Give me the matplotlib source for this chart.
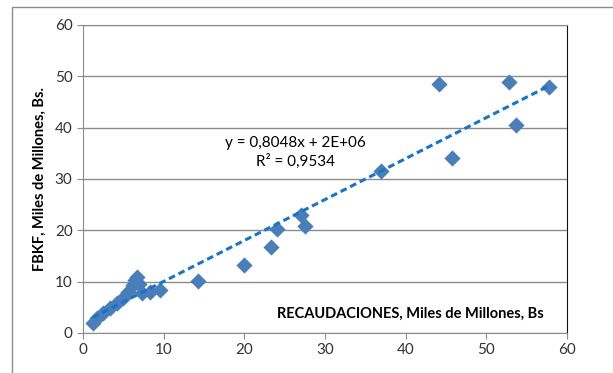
import matplotlib.pyplot as plt
import matplotlib.patches as mpatches
import numpy as np

# recaudaciones vs FBKF, miles de millones de Bs
recaudaciones = [1.2, 1.7, 2.5, 3.4, 4.2, 5.0, 5.6, 6.2, 6.4, 6.7, 7.0, 7.3, 8.3, 9.6,
                 14.3, 19.9, 23.3, 24.1, 27.0, 27.5, 37.0, 44.1, 45.7, 52.8, 53.7, 57.8]
fbkf = [1.9, 2.9, 3.9, 4.9, 5.8, 6.8, 8.0, 9.4, 10.3, 11.0, 9.5, 7.8, 8.0, 8.4,
        10.1, 13.3, 16.7, 20.3, 23.0, 20.9, 31.6, 48.6, 34.1, 48.8, 40.5, 48.0]
x_ticks = [0, 10, 20, 30, 40, 50, 60]
y_ticks = [0, 10, 20, 30, 40, 50, 60]

plt.rcParams['font.family'] = ['Lato', 'DejaVu Sans']

fig = plt.figure(figsize=(6.13, 3.73), dpi=100)
ax = fig.add_axes((83 / 613, 1 - 333 / 373, 484 / 613, 308 / 373))

# outer chart border (cropped at right/bottom)
fig.patches.append(mpatches.Rectangle((12 / 613, -0.1), 1.1, (373 - 7) / 373 + 0.1,
                                      transform=fig.transFigure, fill=False,
                                      edgecolor='#8c8c8c', linewidth=1.0))

ax.scatter(recaudaciones, fbkf, marker='D', s=68, color='#4a7ebb', zorder=3,
           linewidths=0)

x = np.array(recaudaciones)
m, b = np.polyfit(x, fbkf, 1)
xs = np.array([x.min(), x.max()])
ax.plot(xs, m * xs + b, linestyle=(0, (2.2, 1.3)), color='#1874c8', linewidth=2.2,
        zorder=4)

ax.set_xlim(0, 60)
ax.set_ylim(0, 60)
ax.set_xticks(x_ticks)
ax.set_yticks(y_ticks)
ax.grid(axis='y', color='#8c8c8c', linewidth=1.0)
ax.set_axisbelow(True)
ax.tick_params(labelsize=11, colors='#8c8c8c', labelcolor='#333333', length=4,
               direction='out')
for s in ['left', 'bottom', 'top']:
    ax.spines[s].set_color('#8c8c8c')
ax.spines['right'].set_color('#111111')

ax.set_ylabel('FBKF, Miles de Millones, Bs.', fontsize=10.5, fontweight='bold',
              labelpad=6)
ax.text(57.1, 3.7, 'RECAUDACIONES, Miles de Millones, Bs', fontsize=10.5,
        fontweight='bold', ha='right', va='center')
ax.text(26.3, 35.1, 'y = 0,8048x + 2E+06\nR² = 0,9534', fontsize=11,
        ha='center', va='center', multialignment='center', linespacing=1.3)

fig.savefig('out.png', dpi=100)
